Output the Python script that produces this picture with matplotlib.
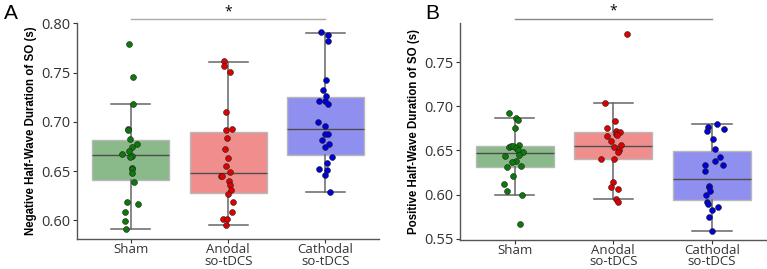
import matplotlib
matplotlib.use("Agg")
import matplotlib.pyplot as plt
import numpy as np

groups = ["Sham", "Anodal\nso-tDCS", "Cathodal\nso-tDCS"]

# --- Panel A: negative half-wave duration (s) ---
neg_sham = [0.779, 0.745, 0.718, 0.693, 0.692, 0.683, 0.677, 0.674, 0.670, 0.667, 0.665,
            0.664, 0.653, 0.652, 0.648, 0.639, 0.619, 0.617, 0.608, 0.599, 0.591]
neg_anodal = [0.762, 0.757, 0.751, 0.710, 0.692, 0.693, 0.684, 0.672, 0.663, 0.655, 0.649,
              0.645, 0.645, 0.640, 0.636, 0.631, 0.627, 0.619, 0.608, 0.601, 0.601, 0.595]
neg_cathodal = [0.791, 0.788, 0.782, 0.742, 0.732, 0.726, 0.721, 0.721, 0.718, 0.700, 0.696,
                0.688, 0.688, 0.682, 0.677, 0.674, 0.664, 0.658, 0.652, 0.651, 0.646, 0.629]
# box stats: q1, median, q3, lower whisker, upper whisker
neg_box = [(0.641, 0.666, 0.6815, 0.591, 0.718),
           (0.628, 0.648, 0.690, 0.595, 0.761),
           (0.666, 0.6925, 0.725, 0.629, 0.790)]

# --- Panel B: positive half-wave duration (s) ---
pos_sham = [0.6925, 0.687, 0.685, 0.675, 0.654, 0.6555, 0.655, 0.656, 0.6525, 0.651, 0.6485,
            0.6435, 0.6445, 0.638, 0.637, 0.6325, 0.631, 0.6205, 0.6125, 0.6035, 0.599, 0.567]
pos_anodal = [0.7825, 0.704, 0.6835, 0.6755, 0.672, 0.671, 0.669, 0.667, 0.6665, 0.6605, 0.6565,
              0.654, 0.651, 0.6485, 0.6405, 0.640, 0.6145, 0.6085, 0.606, 0.595, 0.591]
pos_cathodal = [0.6805, 0.677, 0.672, 0.674, 0.6625, 0.652, 0.6425, 0.638, 0.633, 0.633, 0.627,
                0.6095, 0.6085, 0.6035, 0.5995, 0.591, 0.5895, 0.583, 0.586, 0.5745, 0.559]
pos_box = [(0.631, 0.6468, 0.6555, 0.5995, 0.6865),
           (0.640, 0.6547, 0.6705, 0.595, 0.704),
           (0.5935, 0.618, 0.6495, 0.559, 0.6805)]

# horizontal jitter of the strip points (category units)
neg_jit = [
    [-0.017, 0.027, 0.02, -0.03, -0.03, -0.007, 0.064, 0.013, -0.02, -0.092, 0.01,
     -0.01, 0.016, 0.013, 0.01, 0.034, -0.038, 0.074, -0.055, -0.055, -0.051],
    [-0.044, -0.047, 0.014, -0.02, -0.02, 0.038, -0.01, -0.03, -0.003, -0.024, 0.02,
     -0.075, -0.06, 0.004, 0.017, 0.03, -0.003, 0.05, 0.04, -0.05, -0.016, -0.02],
    [-0.047, 0.028, 0.028, 0.004, -0.024, 0.007, -0.068, -0.006, 0.031, -0.078, -0.006,
     -0.006, 0.031, -0.037, 0.038, -0.003, 0.066, 0.02, -0.062, 0.02, 0.0, 0.045],
]
pos_jit = [
    [-0.057, 0.017, 0.03, 0.007, -0.054, -0.033, -0.016, 0.048, 0.014, 0.03, 0.085,
     -0.094, 0.045, 0.017, -0.026, 0.061, -0.074, -0.016, -0.111, -0.077, 0.075, 0.051],
    [0.139, -0.088, 0.013, -0.061, 0.027, 0.064, 0.023, 0.041, -0.064, -0.023, 0.081,
     0.01, 0.058, 0.044, -0.122, 0.01, 0.0, -0.027, 0.048, 0.027, 0.044],
    [0.054, -0.037, -0.048, 0.122, 0.006, 0.026, 0.081, 0.033, 0.115, -0.068, -0.075,
     -0.027, -0.034, -0.017, -0.061, -0.048, -0.037, 0.0, 0.064, -0.027, 0.0],
]

box_fill = ["#8aba8a", "#f08e8e", "#8f8fef"]
dot_color = ["#0b7a0b", "#e00000", "#0000d8"]

plt.rcParams["font.family"] = ["Open Sans", "DejaVu Sans"]

W, H = 767, 269
fig = plt.figure(figsize=(W / 100, H / 100), dpi=100)


def panel(rect, data, jit, boxes, ylim, yticks, ylabel, letter, letter_x,
          sig_y, sig_color, label_x):
    l, r, b, t = rect
    ax = fig.add_axes([l / W, 1 - b / H, (r - l) / W, (b - t) / H])
    stats = []
    for q1, med, q3, lo, hi in boxes:
        stats.append(dict(q1=q1, med=med, q3=q3, whislo=lo, whishi=hi, fliers=[]))
    bp = ax.bxp(stats, positions=range(3), widths=0.79, patch_artist=True,
                showfliers=False, manage_ticks=False,
                boxprops=dict(edgecolor="#b8b8b8", linewidth=1.0),
                medianprops=dict(color="#4d4d4d", linewidth=1.0),
                whiskerprops=dict(color="#666666", linewidth=1.1),
                capprops=dict(color="#666666", linewidth=1.1),
                capwidths=0.4)
    for patch, fc in zip(bp["boxes"], box_fill):
        patch.set_facecolor(fc)
        patch.set_zorder(1)
    for i, (vals, jj) in enumerate(zip(data, jit)):
        ax.scatter(i + np.array(jj), vals, s=18, color=dot_color[i],
                   edgecolor="#222222", linewidth=0.4, zorder=3)
    ax.set_xlim(-0.55, 2.55)
    ax.set_ylim(*ylim)
    ax.set_yticks(yticks)
    ax.set_yticklabels([f"{v:.2f}" for v in yticks])
    ax.set_xticks(range(3))
    ax.set_xticklabels(groups, linespacing=0.85)
    ax.tick_params(axis="both", colors="#333333", length=3, width=0.8)
    ax.tick_params(axis="x", labelsize=9.5, pad=0)
    ax.tick_params(axis="y", labelsize=10.5, pad=2)
    for s in ["top", "right"]:
        ax.spines[s].set_visible(False)
    for s in ["left", "bottom"]:
        ax.spines[s].set_color("#555555")
        ax.spines[s].set_linewidth(1.0)
    fig.text(label_x / W, 0.5 * (1 - b / H + 1 - t / H), ylabel, rotation=90,
             ha="center", va="center", fontsize=8.3, fontweight="bold",
             family="Liberation Sans")
    # significance bar between Sham and Cathodal
    ax.plot([0, 2], [sig_y, sig_y], color=sig_color, lw=1.0, clip_on=False)
    ax.annotate("*", xy=(1, sig_y), xytext=(0, 0), textcoords="offset points",
                ha="center", va="bottom", fontsize=10,
                annotation_clip=False)
    fig.text(letter_x / W, 1 - 14 / H, letter, fontsize=15,
             family="Liberation Sans", ha="left", va="center")
    return ax


panel((77.3, 379.0, 239.0, 22.7), [neg_sham, neg_anodal, neg_cathodal], neg_jit,
      neg_box, (0.5810, 0.8006), [0.60, 0.65, 0.70, 0.75, 0.80],
      "Negative Half-Wave Duration of SO (s)", "A", 4, 0.804, "#aaaaaa", 31)
panel((460.3, 766.3, 239.7, 23.3), [pos_sham, pos_anodal, pos_cathodal], pos_jit,
      pos_box, (0.5488, 0.7942), [0.55, 0.60, 0.65, 0.70, 0.75],
      "Positive Half-Wave Duration of SO (s)", "B", 425, 0.7991, "#888888", 414)

fig.savefig("out.png", dpi=100)
